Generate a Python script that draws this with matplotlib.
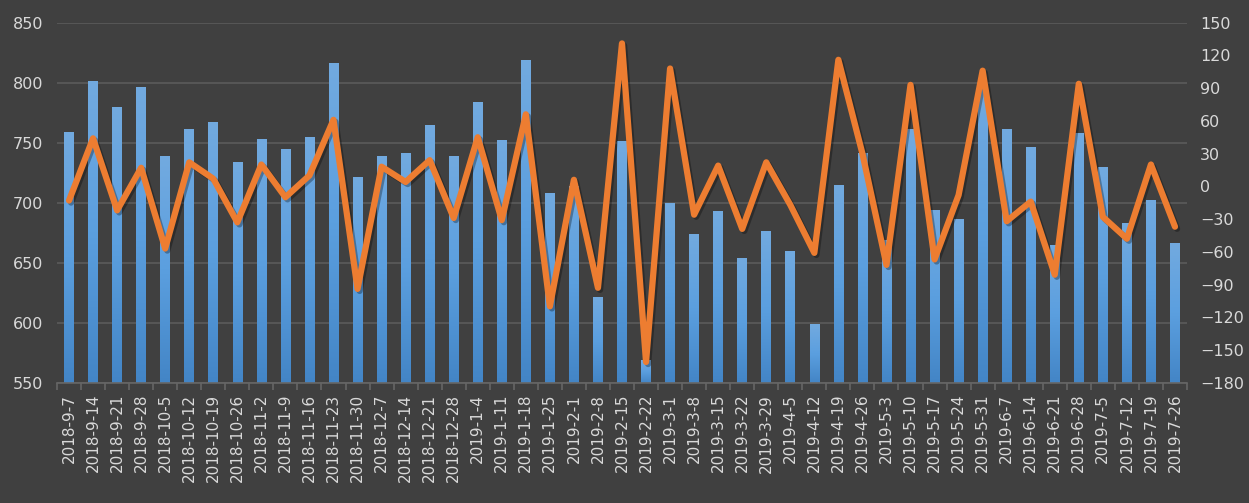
import matplotlib
matplotlib.use("Agg")
import matplotlib.pyplot as plt
import numpy as np
from matplotlib.colors import LinearSegmentedColormap
import matplotlib.patheffects as pe

categories = [
    "2018-9-7", "2018-9-14", "2018-9-21", "2018-9-28", "2018-10-5", "2018-10-12",
    "2018-10-19", "2018-10-26", "2018-11-2", "2018-11-9", "2018-11-16", "2018-11-23",
    "2018-11-30", "2018-12-7", "2018-12-14", "2018-12-21", "2018-12-28", "2019-1-4",
    "2019-1-11", "2019-1-18", "2019-1-25", "2019-2-1", "2019-2-8", "2019-2-15",
    "2019-2-22", "2019-3-1", "2019-3-8", "2019-3-15", "2019-3-22", "2019-3-29",
    "2019-4-5", "2019-4-12", "2019-4-19", "2019-4-26", "2019-5-3", "2019-5-10",
    "2019-5-17", "2019-5-24", "2019-5-31", "2019-6-7", "2019-6-14", "2019-6-21",
    "2019-6-28", "2019-7-5", "2019-7-12", "2019-7-19", "2019-7-26",
]

bar_values = [
    759, 801, 780, 796, 739, 761, 767, 734, 753, 745, 755, 816,
    721, 739, 741, 765, 739, 784, 752, 819, 708, 714, 621, 751,
    569, 700, 674, 693, 654, 676, 660, 599, 715, 741, 669, 761,
    694, 686, 796, 761, 746, 665, 758, 730, 683, 702, 666,
]

line_values = [
    -13, 44, -22, 17, -57, 22, 7, -33, 20, -10, 10, 61,
    -94, 18, 4, 24, -29, 45, -31, 66, -110, 6, -93, 131,
    -161, 108, -26, 19, -39, 22, -17, -61, 116, 30, -72, 93,
    -67, -8, 106, -32, -14, -81, 94, -28, -48, 20, -37,
]

left_ticks = [550, 600, 650, 700, 750, 800, 850]
right_ticks = [-180, -150, -120, -90, -60, -30, 0, 30, 60, 90, 120, 150]

BG = "#404040"
GRID = "#595959"
TXT = "#d9d9d9"
ORANGE = "#ED7D31"

fig = plt.figure(figsize=(12.49, 5.03), dpi=100, facecolor=BG)
ax = fig.add_axes([57 / 1249, 1 - 382.7 / 503, 1130 / 1249, 360 / 503])
ax.set_facecolor(BG)

x = np.arange(len(categories))
bars = ax.bar(x, bar_values, width=0.4, color="#5b9bd5", zorder=2)

cmap = LinearSegmentedColormap.from_list("g", ["#4385c6", "#5b9fdf", "#72aadf"])
grad = np.linspace(0, 1, 256).reshape(-1, 1)
for b in bars:
    bx, by = b.get_x(), b.get_y()
    w, h = b.get_width(), b.get_height()
    im = ax.imshow(grad, extent=[bx, bx + w, 550, by + h], origin="lower",
                   cmap=cmap, aspect="auto", zorder=2.1, interpolation="bilinear")
    im.set_clip_path(b)

ax.set_xlim(-0.5, len(categories) - 0.5)
ax.set_ylim(550, 850)
ax.set_yticks(left_ticks)
ax.yaxis.grid(True, color=GRID, linewidth=1.3, zorder=0)
ax.set_axisbelow(True)
for s in ["top", "right", "left"]:
    ax.spines[s].set_visible(False)
ax.spines["bottom"].set_color("#666666")
ax.spines["bottom"].set_linewidth(1.2)

ax.set_xticks(x)
ax.set_xticklabels(categories, rotation=90, fontsize=11, color=TXT)
ax.set_xticks(np.arange(-0.5, len(categories), 1), minor=True)
ax.tick_params(axis="x", which="major", length=0, pad=8)
ax.tick_params(axis="x", which="minor", length=5, color="#666666", width=1.2)
ax.tick_params(axis="y", length=0, labelsize=11.5, labelcolor=TXT, pad=10)

ax2 = ax.twinx()
ax2.set_ylim(-180, 150)
ax2.set_yticks(right_ticks)
ax2.tick_params(axis="y", length=0, labelsize=11.5, labelcolor=TXT, pad=9.5)
for s in ax2.spines.values():
    s.set_visible(False)
ax2.plot(x, line_values, color=ORANGE, linewidth=4.5, solid_joinstyle="round",
         solid_capstyle="round", zorder=3,
         path_effects=[pe.SimpleLineShadow(offset=(1.5, -1.5), shadow_color="black", alpha=0.3),
                       pe.Normal()])

fig.savefig("out.png", dpi=100, facecolor=BG)
